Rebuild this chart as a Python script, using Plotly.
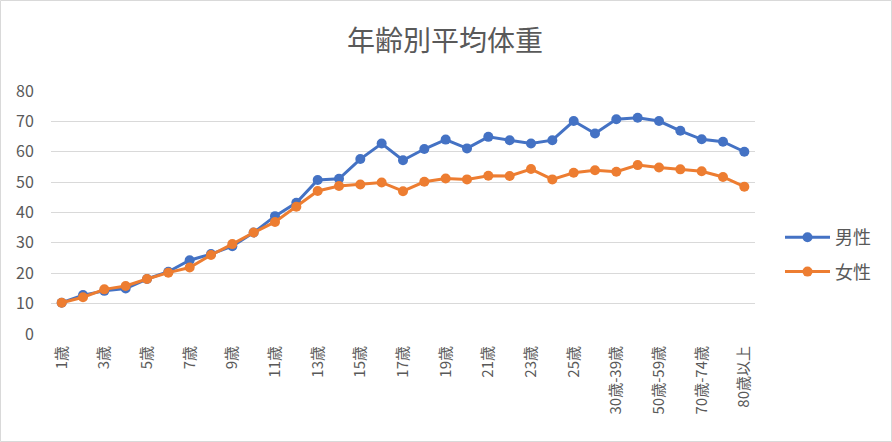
import plotly.graph_objects as go

categories = [f"{i}歳" for i in range(1, 26)] + [
    "26歳-29歳", "30歳-39歳", "40歳-49歳", "50歳-59歳",
    "60歳-69歳", "70歳-74歳", "75歳-79歳", "80歳以上"]

male = [10.3, 12.8, 14.2, 15.0, 18.1, 20.5, 24.3, 26.3, 28.9, 33.4,
        38.8, 43.2, 50.7, 51.1, 57.6, 62.7, 57.2, 60.9, 64.0, 61.1,
        64.9, 63.8, 62.7, 63.8, 70.1, 66.0, 70.7, 71.2, 70.1, 66.9,
        64.1, 63.3, 60.0]
female = [10.3, 12.1, 14.7, 15.8, 18.1, 20.2, 21.9, 26.0, 29.6, 33.4,
          36.9, 41.9, 47.1, 48.7, 49.2, 49.9, 47.0, 50.1, 51.2, 50.9,
          52.1, 52.0, 54.3, 50.9, 53.1, 53.9, 53.4, 55.6, 54.8, 54.2,
          53.6, 51.7, 48.5]

tick_labels = categories[::2]
y_ticks = [0, 10, 20, 30, 40, 50, 60, 70, 80]

FONT = "Noto Sans CJK JP, Noto Sans, sans-serif"
GREY = "#595959"

fig = go.Figure()
fig.add_trace(go.Scatter(x=categories, y=male, name="男性", mode="lines+markers",
                         legendgroup="m",
                         line=dict(color="#4472C4", width=3),
                         marker=dict(color="#4472C4", size=10)))
fig.add_trace(go.Scatter(x=categories, y=female, name="女性", mode="lines+markers",
                         legendgroup="f",
                         line=dict(color="#ED7D31", width=3),
                         marker=dict(color="#ED7D31", size=10)))

W, H = 892, 442
L, R, T, B = 51, 137, 91, 108
pw, ph = W - L - R, H - T - B

def px_to_paper_x(px):
    return (px - L) / pw

def px_to_paper_y(py):
    return (H - B - py) / ph

fig.update_layout(
    width=W, height=H,
    margin=dict(l=L, r=R, t=T, b=B),
    paper_bgcolor="white", plot_bgcolor="white",
    font=dict(family=FONT, color=GREY, size=12),
    title=dict(text="年齢別平均体重", x=445 / W, xref="container", xanchor="center",
               y=1 - 41 / H, yref="container", yanchor="middle",
               font=dict(size=28, color=GREY, family=FONT)),
    showlegend=True,
    legend=dict(x=px_to_paper_x(780), y=px_to_paper_y(219), xanchor="left", yanchor="top",
                font=dict(size=18, color=GREY, family=FONT),
                bgcolor="rgba(0,0,0,0)", tracegroupgap=8, itemwidth=45),
    xaxis=dict(type="category", categoryorder="array", categoryarray=categories,
               range=[-0.5, len(categories) - 0.5],
               tickmode="array", tickvals=tick_labels, ticktext=tick_labels,
               tickangle=-90, showgrid=False, zeroline=False, showline=False,
               ticks="outside", ticklen=5, tickcolor="rgba(0,0,0,0)",
               tickfont=dict(size=15, color=GREY, family=FONT)),
    yaxis=dict(range=[0, 80], tickmode="array", tickvals=y_ticks,
               showgrid=True, gridcolor="#D9D9D9", gridwidth=1,
               zeroline=False, showline=False,
               ticks="outside", ticklen=13, tickcolor="rgba(0,0,0,0)",
               tickfont=dict(size=16, color=GREY, family=FONT)),
    shapes=[dict(type="rect", xref="paper", yref="paper",
                 x0=px_to_paper_x(0.5), x1=px_to_paper_x(W - 0.5),
                 y0=px_to_paper_y(H - 0.5), y1=px_to_paper_y(0.5),
                 line=dict(color="#D9D9D9", width=1), layer="below")],
)

fig.write_html("out.html", config={"displayModeBar": False},
               post_script="document.body.style.margin='0';document.body.style.overflow='hidden';")
